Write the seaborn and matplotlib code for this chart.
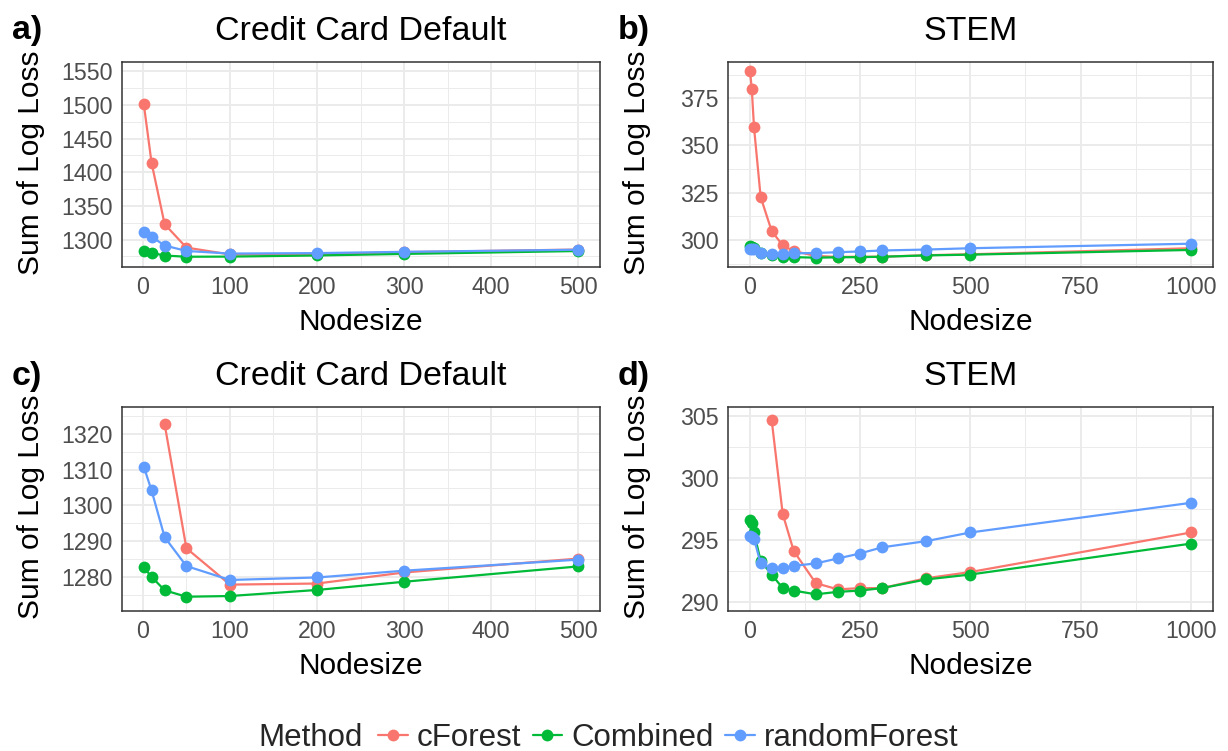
import numpy as np
import pandas as pd
import matplotlib
matplotlib.use("Agg")
import matplotlib.pyplot as plt
import seaborn as sns
from matplotlib.lines import Line2D
from matplotlib.ticker import MultipleLocator

# ---------------- data ----------------
methods = ["cForest", "Combined", "randomForest"]
palette = {"cForest": "#F8766D", "Combined": "#00BA38", "randomForest": "#619CFF"}

cc_nodesize = [1, 10, 25, 50, 100, 200, 300, 500]
cc_cforest = [1502.0, 1414.0, 1322.8, 1288.0, 1277.8, 1278.1, 1281.2, 1285.1]
cc_combined = [1282.6, 1280.0, 1276.2, 1274.4, 1274.6, 1276.3, 1278.6, 1282.9]
cc_randomforest = [1310.9, 1304.2, 1291.1, 1283.0, 1279.1, 1279.8, 1281.7, 1284.8]

stem_nodesize = [1, 5, 10, 25, 50, 75, 100, 150, 200, 250, 300, 400, 500, 1000]
stem_cforest = [389.2, 379.7, 359.5, 322.7, 304.7, 297.1, 294.1, 291.5, 291.0, 291.1, 291.1, 291.9, 292.4, 295.6]
stem_combined = [296.6, 296.4, 295.6, 293.3, 292.2, 291.1, 290.9, 290.6, 290.8, 290.9, 291.1, 291.8, 292.2, 294.7]
stem_randomforest = [295.3, 295.2, 295.1, 293.1, 292.7, 292.7, 292.9, 293.1, 293.5, 293.9, 294.4, 294.9, 295.6, 298.0]

titles = ["Credit Card Default", "STEM", "Credit Card Default", "STEM"]
tags = ["a)", "b)", "c)", "d)"]
x_label = "Nodesize"
y_label = "Sum of Log Loss"
legend_title = "Method"


def long_df(nodesize, series):
    frames = []
    for m, vals in zip(methods, series):
        frames.append(pd.DataFrame({"Nodesize": nodesize, "Loss": vals, "Method": m}))
    return pd.concat(frames, ignore_index=True)


cc_df = long_df(cc_nodesize, [cc_cforest, cc_combined, cc_randomforest])
stem_df = long_df(stem_nodesize, [stem_cforest, stem_combined, stem_randomforest])

# ---------------- style ----------------
sns.set_style("white")
plt.rcParams["font.family"] = ["Liberation Sans", "DejaVu Sans"]

W, H = 1228, 751
fig = plt.figure(figsize=(W / 100, H / 100), dpi=100)


def fx(px):
    return px / W


def fy(py):
    return 1 - py / H


panel_px = [  # left, right, top, bottom in pixels
    (122, 600, 62, 267),
    (728, 1213, 62, 267),
    (122, 600, 407, 611),
    (728, 1213, 407, 611),
]

specs = [
    dict(df=cc_df, limits=(1273, 1550), ymaj=50, ymin=25, xmaj=100, xmin=50),
    dict(df=stem_df, limits=None, ymaj=25, ymin=12.5, xmaj=250, xmin=125),
    dict(df=cc_df, limits=(1273, 1325), ymaj=10, ymin=5, xmaj=100, xmin=50),
    dict(df=stem_df, limits=(290, 305), ymaj=5, ymin=2.5, xmaj=250, xmin=125),
]

grid_col = "#EBEBEB"
dark = "#333333"
TITLE_FS = 24.5
LABEL_FS = 21.5
TICK_FS = 16.7
LEGEND_FS = 22.5

for i, (spec, (l, r, t, b)) in enumerate(zip(specs, panel_px)):
    ax = fig.add_axes([fx(l), fy(b), fx(r - l), fy(t) - fy(b)])
    df = spec["df"]
    lim = spec["limits"]
    if lim is not None:
        df = df[(df["Loss"] >= lim[0]) & (df["Loss"] <= lim[1])]
        lo, hi = lim
    else:
        lo, hi = df["Loss"].min(), df["Loss"].max()
    sns.lineplot(data=df, x="Nodesize", y="Loss", hue="Method", hue_order=methods,
                 palette=palette, marker="o", markersize=8.5, markeredgewidth=0,
                 linewidth=1.6, ax=ax, legend=False, zorder=3, sort=True,
                 estimator=None)
    pad = (hi - lo) * 0.05
    ax.set_ylim(lo - pad, hi + pad)
    xmin_d, xmax_d = spec["df"]["Nodesize"].min(), spec["df"]["Nodesize"].max()
    xp = (xmax_d - xmin_d) * 0.05
    ax.set_xlim(xmin_d - xp, xmax_d + xp)

    ax.yaxis.set_major_locator(MultipleLocator(spec["ymaj"]))
    ax.yaxis.set_minor_locator(MultipleLocator(spec["ymin"]))
    ax.xaxis.set_major_locator(MultipleLocator(spec["xmaj"]))
    ax.xaxis.set_minor_locator(MultipleLocator(spec["xmin"]))
    ax.grid(which="major", color=grid_col, linewidth=1.4, zorder=0)
    ax.grid(which="minor", color=grid_col, linewidth=0.7, zorder=0)
    ax.set_axisbelow(True)
    for s in ax.spines.values():
        s.set_color(dark)
        s.set_linewidth(1.1)
    ax.tick_params(which="major", length=4, width=1.0, color=dark,
                   labelsize=TICK_FS, labelcolor="#4D4D4D", pad=2.5)
    ax.tick_params(which="minor", length=0)
    ax.set_xlabel("")
    ax.set_ylabel("")

    # labels
    cx = (l + r) / 2
    cy = (t + b) / 2
    fig.text(fx(cx), fy(t - 31), titles[i], ha="center", va="center", fontsize=TITLE_FS, color="black")
    fig.text(fx(l - 110), fy(t - 31), tags[i], ha="left", va="center", fontsize=TITLE_FS,
             fontweight="bold", color="black")
    fig.text(fx(cx), fy(b + 55), x_label, ha="center", va="center", fontsize=LABEL_FS, color="black")
    fig.text(fx(l - 91), fy(cy - 2), y_label, ha="center", va="center", rotation=90,
             fontsize=LABEL_FS, color="black")

# legend
handles = [Line2D([0], [0], color=palette[m], lw=1.6, marker="o", markersize=8.5,
                  markeredgewidth=0) for m in methods]
fig.text(fx(258), fy(738), legend_title, ha="left", va="center", fontsize=LEGEND_FS)
fig.legend(handles, methods, loc="center left", bbox_to_anchor=(fx(378), fy(738)),
           ncol=3, frameon=False, fontsize=LEGEND_FS, handlelength=0.95, handletextpad=0.3,
           columnspacing=0.35, borderaxespad=0, borderpad=0)

fig.savefig("out.png", dpi=100)
